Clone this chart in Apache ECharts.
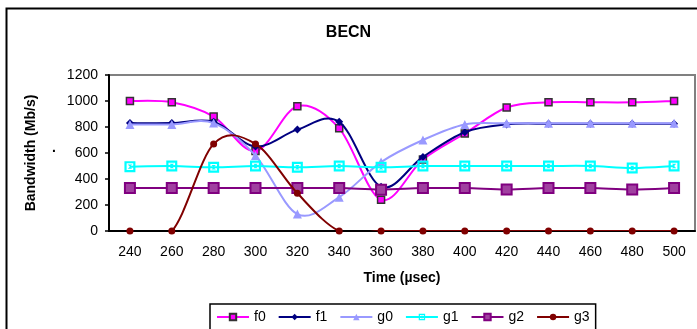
<!DOCTYPE html>
<html>
<head>
<meta charset="utf-8">
<script src="https://cdn.jsdelivr.net/npm/echarts@6/dist/echarts.min.js"></script>
<style>
html,body{margin:0;padding:0;background:#fff;}
#c{width:697px;height:329px;}
</style>
</head>
<body>
<div id="c"></div>
<script>
var categories = ['240','260','280','300','320','340','360','380','400','420','440','460','480','500'];
var f0 = [1000, 990, 880, 615, 960, 790, 240, 550, 750, 950, 990, 990, 990, 1000];
var f1 = [830, 830, 840, 650, 780, 840, 340, 570, 760, 820, 825, 825, 825, 825];
var g0 = [820, 820, 830, 580, 130, 260, 530, 700, 820, 828, 828, 828, 828, 828];
var g1 = [495, 500, 490, 500, 490, 500, 490, 500, 500, 500, 500, 500, 485, 500];
var g2 = [330, 330, 330, 330, 330, 330, 318, 330, 330, 320, 330, 330, 320, 330];
var g3 = [0, 0, 670, 670, 290, 0, 0, 0, 0, 0, 0, 0, 0, 0];
var yTicks = [0, 200, 400, 600, 800, 1000, 1200];

var FONT = 'Liberation Sans';
var chart = echarts.init(document.getElementById('c'), null, {renderer: 'canvas'});

// Excel-like smoothed curve (Catmull-Rom Bezier) through the points, placed with the axes' own scales
function curveSeries(name, values, color, z) {
  return {
    name: name + '_curve', type: 'custom', clip: true, z: z, silent: true,
    data: values.map(function (v, i) { return [i, v]; }),
    renderItem: function (params, api) {
      if (params.dataIndex !== 0) return null;
      var p = values.map(function (v, i) { return api.coord([i, v]); });
      var n = p.length;
      var d = 'M' + p[0][0] + ',' + p[0][1];
      for (var i = 0; i < n - 1; i++) {
        var a = p[i > 0 ? i - 1 : i], b = p[i], c = p[i + 1], e = p[i + 2 < n ? i + 2 : i + 1];
        var c1x = b[0] + (c[0] - a[0]) / 6, c1y = b[1] + (c[1] - a[1]) / 6;
        var c2x = c[0] - (e[0] - b[0]) / 6, c2y = c[1] - (e[1] - b[1]) / 6;
        d += ' C' + c1x + ',' + c1y + ' ' + c2x + ',' + c2y + ' ' + c[0] + ',' + c[1];
      }
      return {
        type: 'path', shape: {pathData: d},
        style: {fill: 'none', stroke: color, lineWidth: 2, lineJoin: 'round'}
      };
    }
  };
}

function markers(name, data, color, symbol, size, itemStyle, z) {
  return {
    name: name, type: 'line', data: data, z: z,
    symbol: symbol, symbolSize: size,
    lineStyle: {color: color, width: 2, opacity: 0},
    itemStyle: itemStyle || {color: color},
    emphasis: {disabled: true},
    animation: false
  };
}

var BOXX = 'path://M0,0H10V10H0Z M2,2V8H8V2Z M3,3H7L5,5Z M3,7L5,5L7,7Z';

var defs = [
  ['f0', f0, '#FF00FF', 'rect', 7, {color: '#FF00FF', borderColor: '#333', borderWidth: 1.5}],
  ['f1', f1, '#000080', 'diamond', 8, null],
  ['g0', g0, '#9999FF', 'triangle', 9, null],
  ['g1', g1, '#00FFFF', BOXX, 11, {color: '#00FFFF'}],
  ['g2', g2, '#800080', 'rect', 10, {color: '#A040A0', borderColor: '#800080', borderWidth: 2}],
  ['g3', g3, '#800000', 'circle', 7, null]
];

var series = [];
var legendData = [];
defs.forEach(function (d, k) {
  series.push(curveSeries(d[0], d[1], d[2], 2 + k * 2));
  series.push(markers(d[0], d[1], d[2], d[3], d[4], d[5], 3 + k * 2));
  legendData.push({name: d[0], lineStyle: {color: d[2], width: 2, opacity: 1}});
});

var option = {
  animation: false,
  textStyle: {fontFamily: FONT},
  title: {
    text: 'BECN', left: 'center', top: 20,
    textStyle: {fontFamily: FONT, fontSize: 16, fontWeight: 'bold', color: '#000'}
  },
  grid: {
    left: 109, right: 2, top: 75, bottom: 98,
    show: true, borderColor: '#808080', borderWidth: 2, backgroundColor: 'transparent'
  },
  legend: {
    left: 210, top: 304,
    borderColor: '#000', borderWidth: 1.5,
    padding: [6, 6, 14, 6],
    itemGap: 12, itemWidth: 32, itemHeight: 8,
    textStyle: {fontFamily: FONT, fontSize: 14, color: '#000'},
    data: legendData
  },
  xAxis: {
    type: 'category', data: categories, boundaryGap: true,
    name: 'Time (µsec)', nameLocation: 'middle', nameGap: 40,
    nameTextStyle: {fontFamily: FONT, fontSize: 14, fontWeight: 'bold', color: '#000'},
    axisLine: {lineStyle: {color: '#000', width: 2}},
    axisTick: {length: 5, lineStyle: {color: '#000', width: 1.5}},
    axisLabel: {interval: 0, margin: 14, fontFamily: FONT, fontSize: 14, color: '#000'},
    splitLine: {show: false}
  },
  yAxis: {
    type: 'value', min: 0, max: 1200, interval: 200,
    name: 'Bandwidth (Mb/s)', nameLocation: 'middle', nameGap: 71,
    nameTextStyle: {fontFamily: FONT, fontSize: 14, fontWeight: 'bold', color: '#000'},
    axisLine: {show: true, lineStyle: {color: '#000', width: 2}},
    axisTick: {show: true, length: 4, lineStyle: {color: '#000', width: 1.5}},
    axisLabel: {
      margin: 11, fontFamily: FONT, fontSize: 14, color: '#000',
      formatter: function (v) { return yTicks.indexOf(v) >= 0 ? String(v) : ''; }
    },
    splitLine: {show: false}
  },
  graphic: [
    {type: 'rect', left: 4, top: 6, shape: {width: 720, height: 360},
     style: {fill: 'none', stroke: '#000', lineWidth: 2}, silent: true, z: 100},
    {type: 'text', left: 52, top: 141, style: {text: '.', fill: '#000', font: 'bold 14px Liberation Sans'}}
  ],
  series: series
};
chart.setOption(option);
</script>
</body>
</html>
